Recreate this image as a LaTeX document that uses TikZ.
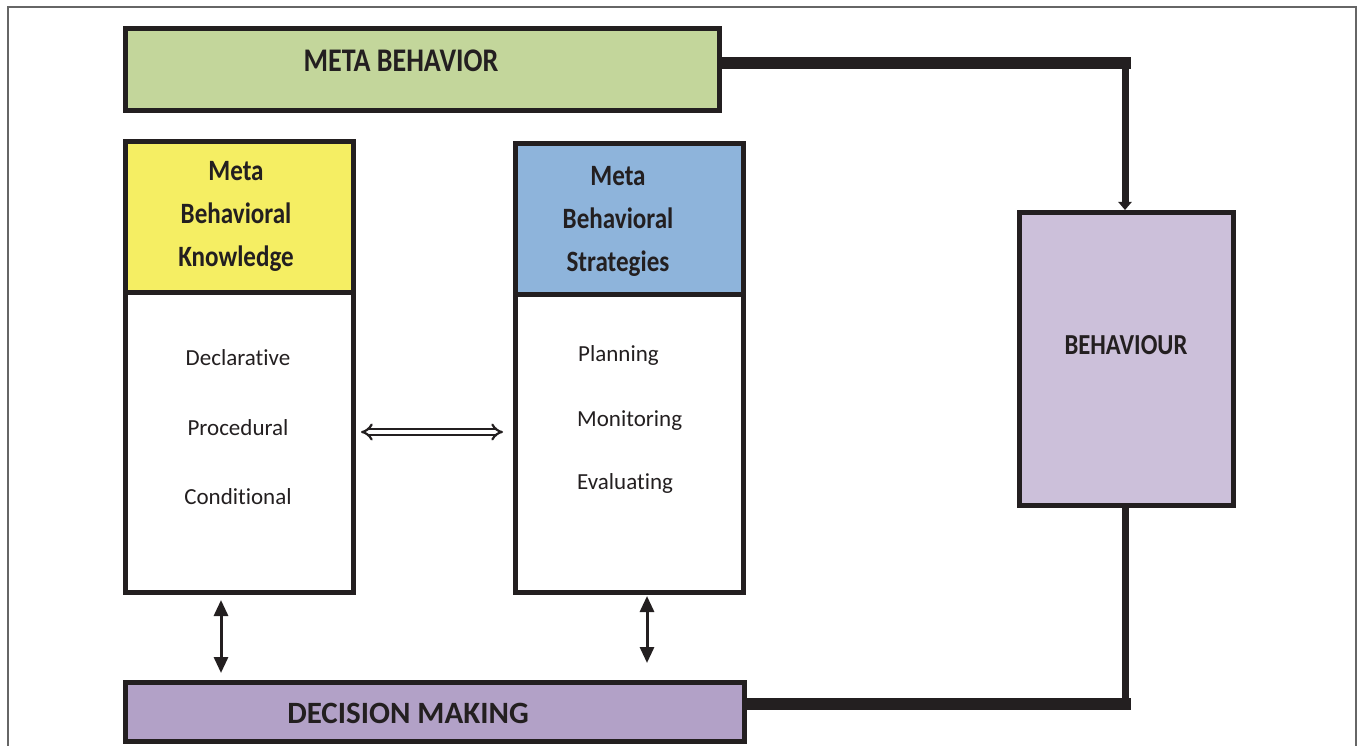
\documentclass[tikz,border=0pt]{standalone}
\usepackage{fontspec}
\setmainfont{Carlito}[Ligatures=NoCommon]
\newfontfamily\headfont{Carlito}[FakeStretch=0.85, Ligatures=NoCommon]
\newfontfamily\headwide{Carlito}[Ligatures=NoCommon]
\usetikzlibrary{arrows.meta}
\definecolor{mbgreen}{HTML}{C3D69B}
\definecolor{mbyellow}{HTML}{F5EE63}
\definecolor{mbblue}{HTML}{8EB4DB}
\definecolor{behlilac}{HTML}{CCC0DA}
\definecolor{dmpurple}{HTML}{B2A1C7}
\definecolor{ink}{HTML}{231F20}
\tikzset{
  box/.style={draw=ink, line width=5pt, inner sep=0pt, anchor=north west},
  headtxt/.style={font=\headfont\bfseries\fontsize{29.5}{43}\selectfont, text=ink, align=center, inner sep=0pt},
  bodytxt/.style={font=\fontsize{23}{27}\selectfont, text=ink, inner sep=0pt},
  thickline/.style={draw=ink, line width=12pt},
  midline/.style={draw=ink, line width=7pt},
  dblarrow/.style={draw=ink, line width=3pt, {Triangle[width=14pt,length=16pt]}-{Triangle[width=14pt,length=16pt]}},
  hollowarrow/.style={draw=ink, line width=2.2pt, double=white, double distance=3.4pt, {Implies}-{Implies}},
}
\begin{document}
\begin{tikzpicture}[x=1pt,y=-1pt]
\useasboundingbox (0,0) rectangle (1360,746);
\draw[gray!80!black, line width=1.5pt] (8,748) -- (8,7) -- (1356,7) -- (1356,748);

% boxes
\node[box, fill=mbgreen, minimum width=594pt, minimum height=82pt] (mb) at (123,26) {};
\node[headtxt, font=\headfont\bfseries\fontsize{33}{40}\selectfont] (mbt) at (401,61) {META BEHAVIOR};

\node[box, fill=mbyellow, minimum width=228pt, minimum height=151pt] (mbkh) at (123,139) {};
\node[box, fill=white, minimum width=228pt, minimum height=300pt] (mbkb) at (123,290) {};
\node[headtxt] (mbkt) at (236,216) {Meta\\Behavioral\\Knowledge};

\node[box, fill=mbblue, minimum width=228pt, minimum height=151pt] (mbsh) at (513,141) {};
\node[box, fill=white, minimum width=228pt, minimum height=298pt] (mbsb) at (513,292) {};
\node[headtxt] (mbst) at (618,221) {Meta\\Behavioral\\Strategies};

\node[box, fill=behlilac, minimum width=214pt, minimum height=293pt] (beh) at (1017,210) {};
\node[headtxt, font=\headfont\bfseries\fontsize{29}{36}\selectfont] (beht) at (1126,345) {BEHAVIOUR};

\node[box, fill=dmpurple, minimum width=619pt, minimum height=59pt] (dm) at (123,680) {};
\node[headtxt, font=\headwide\bfseries\fontsize{31}{36}\selectfont] (dmt) at (408,713) {DECISION MAKING};

% body texts
\node[bodytxt] (decl) at (238,358) {Declarative};
\node[bodytxt] (proc) at (238,428) {Procedural};
\node[bodytxt] (cond) at (238,497) {Conditional};
\node[bodytxt, anchor=west] (plan) at (578,355) {Planning};
\node[bodytxt, anchor=west] (moni) at (577,421) {Monitoring};
\node[bodytxt, anchor=west] (eval) at (577,483) {Evaluating};

% connectors
\coordinate (c1) at (1125,63.5);
\coordinate (c2) at (1125,703.5);
\draw[thickline] (mb.east |- c1) -- ([xshift=6pt]c1);
\draw[midline, -{Triangle[width=13pt,length=8pt]}] ([yshift=-6pt]c1) -- (c1 |- beh.north);
\draw[midline] (c1 |- beh.south) -- ([yshift=6pt]c2);
\draw[thickline] (dm.east |- c2) -- ([xshift=6pt]c2);

\coordinate (h1) at (361,432);
\coordinate (h2) at (503,432);
\draw[hollowarrow] (h1) -- (h2);

\coordinate (k1) at (221,600);
\coordinate (k2) at (221,673);
\coordinate (s1) at (647,596);
\coordinate (s2) at (647,663);
\draw[dblarrow] (k1) -- (k2);
\draw[dblarrow] (s1) -- (s2);
\end{tikzpicture}
\end{document}
